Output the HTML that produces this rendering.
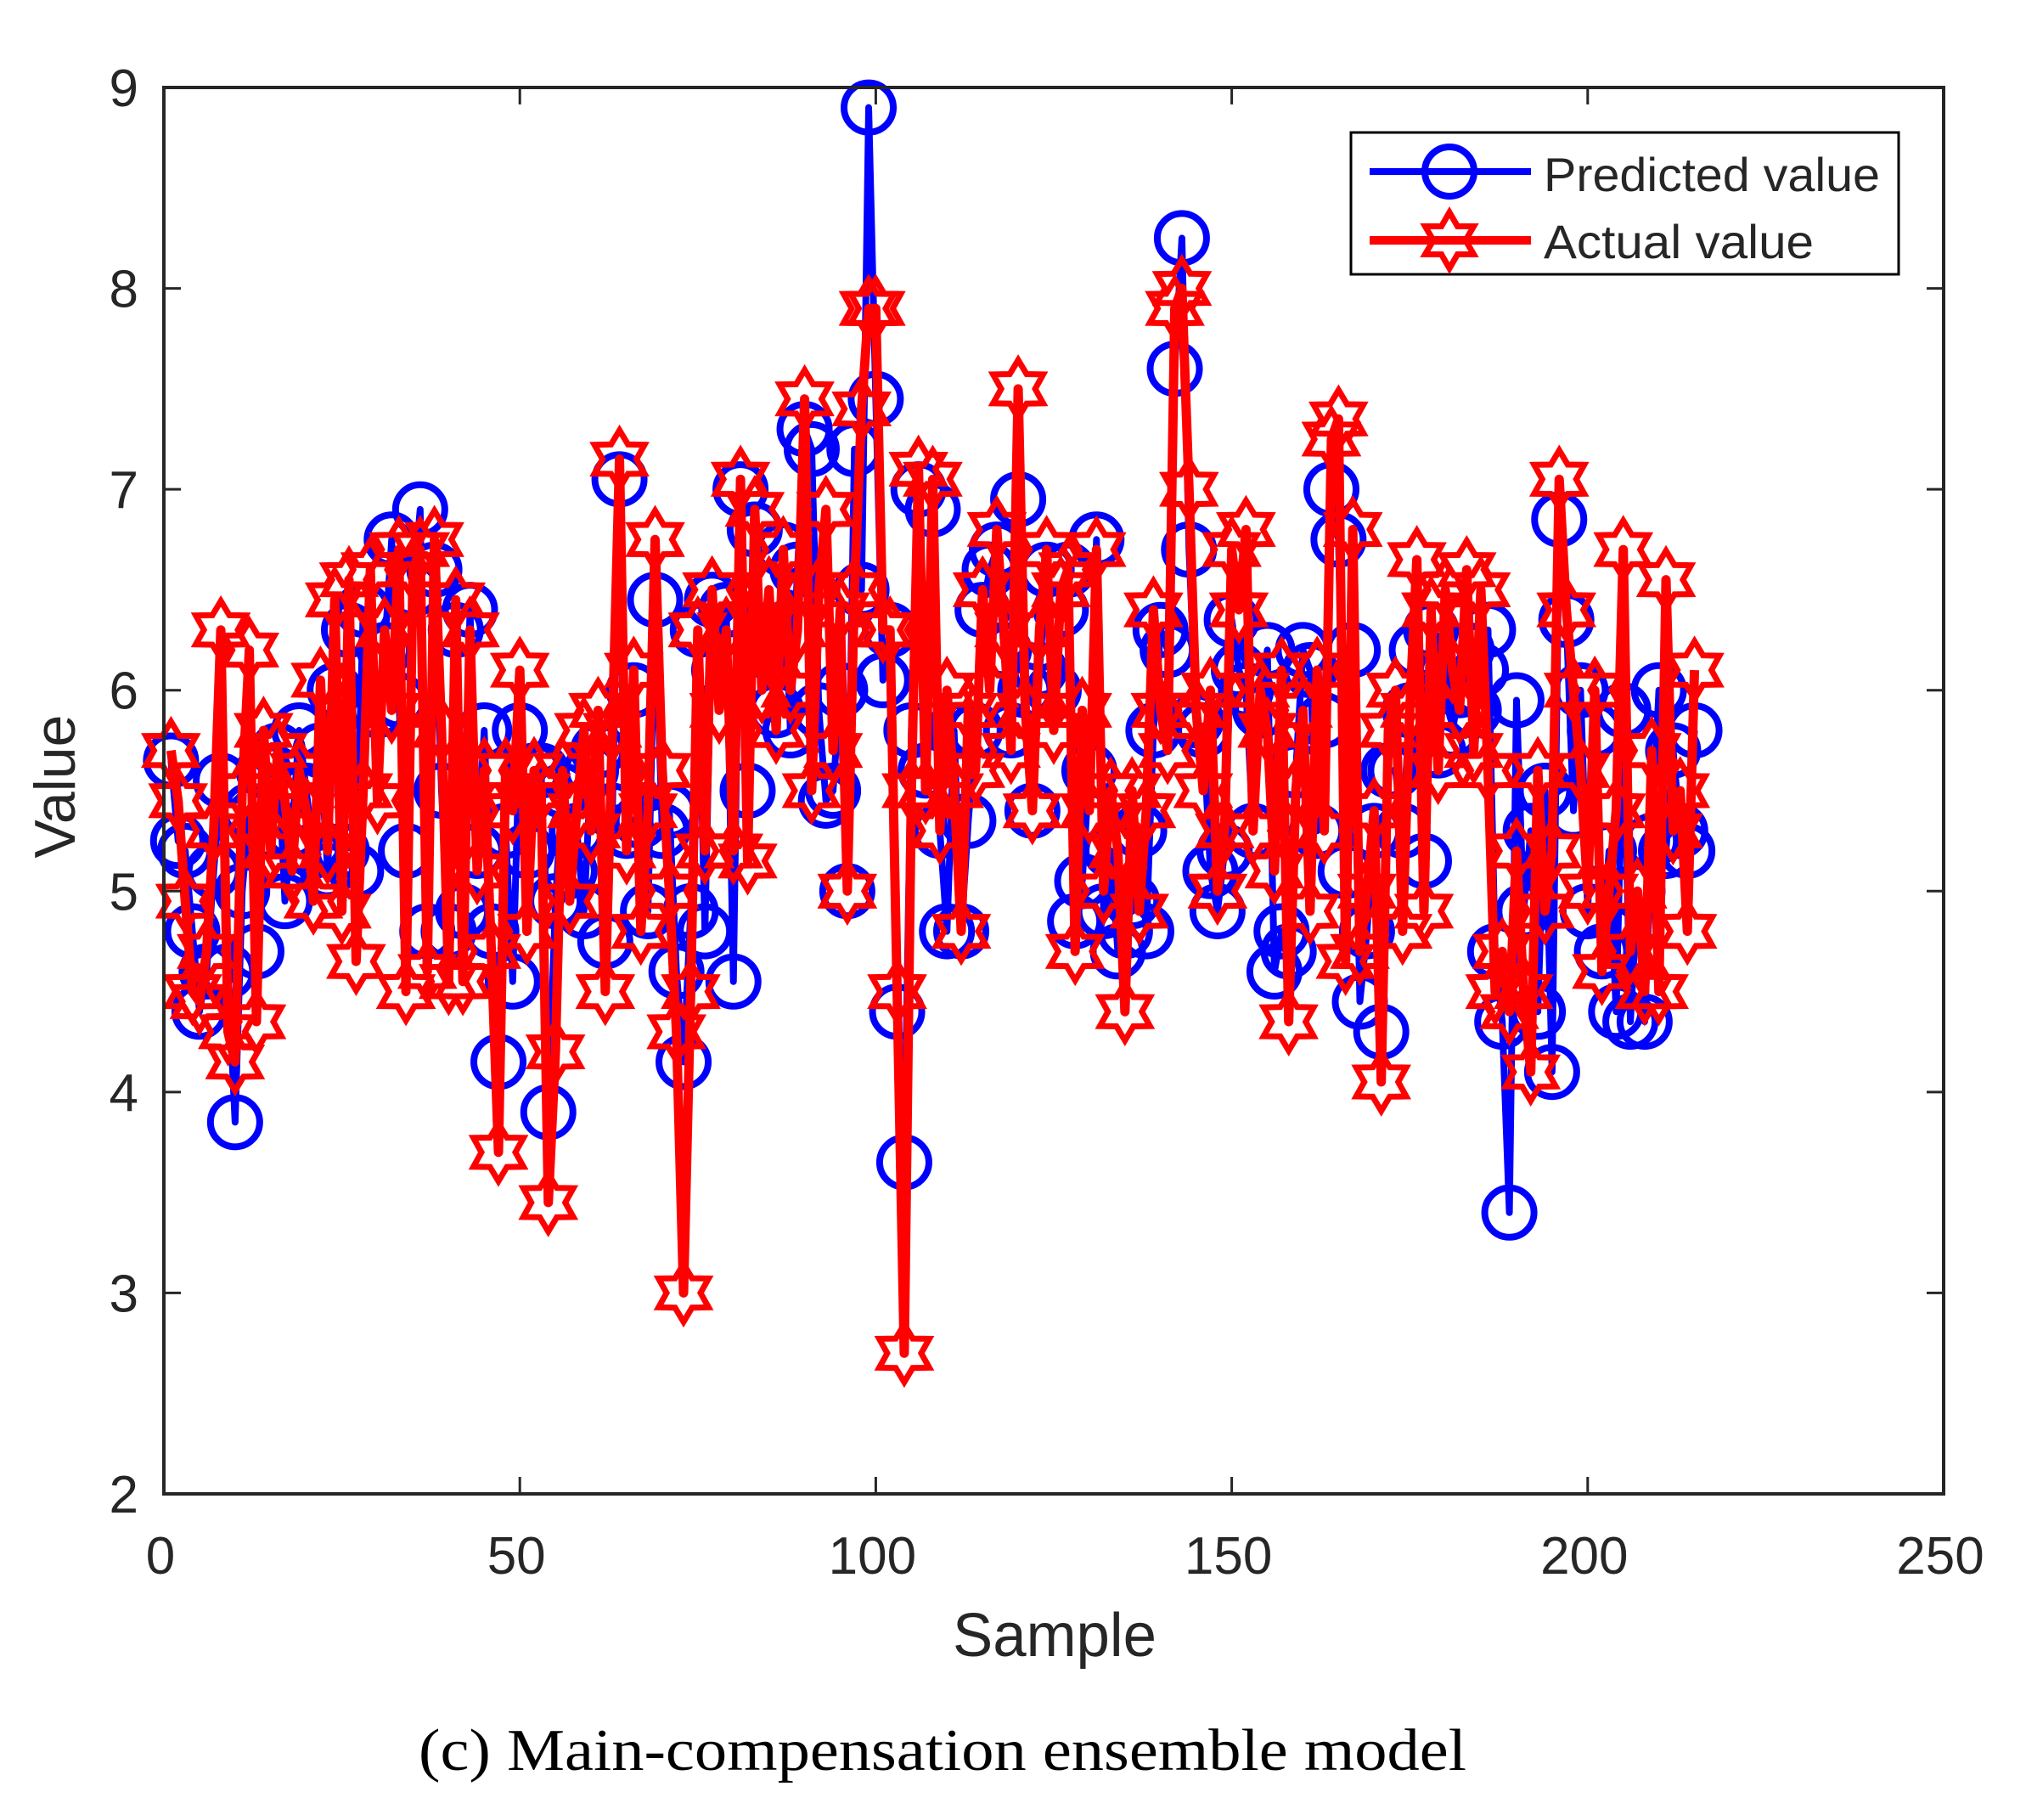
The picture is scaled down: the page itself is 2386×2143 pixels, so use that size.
<!DOCTYPE html>
<html><head><meta charset="utf-8"><style>
html,body{margin:0;padding:0;background:#fff;}
svg{display:block;}
text{font-family:"Liberation Sans",sans-serif;fill:#262626;}
</style></head><body>
<svg id="chart" width="2386" height="2143" viewBox="0 0 2386 2143" xmlns="http://www.w3.org/2000/svg">
<rect x="0" y="0" width="2386" height="2143" fill="#fff"/>
<g id="plot"></g>
<g id="axes"></g>
<text x="0" y="0" font-size="68" text-anchor="middle" transform="translate(88,926) rotate(-90)">Value</text>
<text x="1242" y="1950" font-size="72" text-anchor="middle" textLength="240" lengthAdjust="spacingAndGlyphs">Sample</text>
<text x="1110" y="2084" font-size="70" text-anchor="middle" style="font-family:'Liberation Serif',serif;fill:#000" textLength="1234" lengthAdjust="spacingAndGlyphs">(c) Main-compensation ensemble model</text>
<g id="legend">
<rect x="1591" y="156" width="645" height="167" fill="#fff" stroke="#000" stroke-width="3"/>
<g>
<line x1="1613" y1="202" x2="1803" y2="202" stroke="#0000ff" stroke-width="8"/>
<circle cx="1707" cy="202" r="29" fill="none" stroke="#0000ff" stroke-width="8"/>
<text x="1818" y="225" font-size="56" textLength="396" lengthAdjust="spacingAndGlyphs">Predicted value</text>
</g>
<g>
<line x1="1613" y1="283" x2="1803" y2="283" stroke="#ff0000" stroke-width="10"/>
<polygon id="legstar" fill="none" stroke="#ff0000" stroke-width="7"/>
<text x="1818" y="304" font-size="56" textLength="318" lengthAdjust="spacingAndGlyphs">Actual value</text>
</g>
</g>
</svg>
<script>
const xTicks=[0,50,100,150,200,250];
const yTicks=[2,3,4,5,6,7,8,9];
const predicted=[5.65,5.25,5.2,4.8,4.4,4.6,5.1,5.55,4.6,3.85,
5.0,5.4,4.7,5.6,5.3,5.7,4.95,5.3,5.8,5.5,
5.2,5.7,5.1,6.0,5.2,6.3,5.1,6.4,6.1,5.9,
6.2,6.75,5.95,5.2,6.5,6.9,4.8,6.6,5.5,4.8,
6.3,4.9,6.4,5.2,5.8,4.8,4.15,5.3,4.55,5.8,
5.2,5.6,5.6,3.9,4.95,5.5,5.1,5.3,4.9,5.6,
5.7,4.75,5.4,7.05,5.3,6.0,5.35,4.9,6.45,5.3,
5.4,4.6,4.15,4.9,6.3,4.8,6.45,6.1,6.4,4.55,
7.0,5.5,6.8,6.2,6.3,5.9,6.7,5.8,6.6,7.3,
7.2,5.9,5.45,5.5,6.0,5.0,7.2,6.5,8.9,7.45,
6.05,6.3,4.4,3.65,5.8,7.0,5.6,6.9,5.3,4.8,
5.8,4.8,5.35,5.8,6.4,6.6,6.7,6.2,5.8,6.95,
6.0,5.4,6.1,6.6,6.0,6.4,6.6,4.85,5.05,5.6,
6.75,4.9,5.2,4.7,4.8,4.95,5.3,4.8,5.8,6.3,
6.2,7.6,8.25,6.7,5.85,5.8,5.1,4.9,5.2,6.35,
6.1,6.0,5.3,5.9,6.2,4.6,4.8,4.7,5.6,6.2,
6.1,5.3,5.85,7.0,6.75,5.1,6.2,4.45,4.8,5.3,
4.3,5.6,5.6,5.3,5.9,6.2,5.15,6.3,5.7,6.1,
5.8,6.0,6.2,5.9,6.1,6.3,4.7,4.35,3.4,5.95,
4.9,5.3,4.4,5.5,4.1,6.85,6.35,5.4,6.0,4.9,
5.8,4.7,5.2,4.4,5.9,4.35,5.0,4.35,5.25,6.0,
5.2,5.7,5.3,5.2,5.8];
const actual=[5.7,5.45,4.95,4.5,4.45,4.7,5.3,6.3,4.3,4.15,
5.5,6.2,4.35,5.8,5.2,5.7,5.45,5.1,5.6,5.4,
4.95,6.05,5.2,6.45,4.9,6.55,4.65,5.5,6.6,5.45,
6.3,5.9,6.7,4.5,6.6,6.7,4.6,6.75,5.8,4.55,
6.45,4.55,6.3,5.1,5.6,4.7,3.7,5.6,5.4,6.1,
4.8,5.6,5.5,3.45,4.2,5.6,4.95,5.4,5.8,5.3,
5.9,4.5,5.8,7.15,5.2,6.1,4.8,5.4,6.75,5.6,
5.0,4.3,3.0,4.5,6.3,5.2,6.5,5.9,6.3,5.2,
7.05,5.15,6.9,6.0,6.5,5.8,6.7,6.0,6.3,7.45,
5.5,6.5,6.9,5.7,6.4,5.0,6.5,7.4,7.9,7.9,
6.3,6.3,4.5,2.7,5.5,7.1,5.5,7.05,5.3,6.0,
5.5,4.8,5.9,5.6,6.5,6.0,6.8,6.3,5.7,7.5,
5.9,5.4,6.3,6.7,5.8,6.5,6.6,4.7,5.9,5.4,
6.7,5.0,5.5,5.2,4.4,5.5,4.9,5.4,6.4,5.9,
5.7,7.9,8.0,7.0,5.9,5.5,6.0,5.0,5.3,6.7,
6.4,6.8,5.3,6.0,5.8,5.1,6.1,4.35,5.5,5.9,
4.9,6.1,5.3,7.25,7.35,4.65,6.8,4.7,5.0,5.4,
4.05,5.8,6.0,4.8,5.9,6.65,4.9,6.4,5.6,6.5,
6.1,5.9,6.6,5.7,6.5,5.6,4.5,4.7,4.4,5.2,
4.5,4.1,5.6,4.9,5.2,7.05,6.4,6.0,5.6,5.0,
6.0,4.6,5.0,5.4,6.7,4.7,5.0,4.5,5.7,4.5,
6.55,5.3,5.5,4.8,6.1];

const L=193,R=2289,T=103,B=1759;
const xMin=0,xMax=250,yMin=2,yMax=9;
const sx=v=>L+(v-xMin)/(xMax-xMin)*(R-L);
const sy=v=>B-(v-yMin)/(yMax-yMin)*(B-T);
const NS='http://www.w3.org/2000/svg';
const plot=document.getElementById('plot');
const axes=document.getElementById('axes');
function mk(tag,parent){const e=document.createElementNS(NS,tag);parent.appendChild(e);return e;}
function starPts(cx,cy,ro,ri){const p=[];for(let k=0;k<12;k++){const a=-Math.PI/2+k*Math.PI/6;const r=k%2?ri:ro;p.push((cx+r*Math.cos(a)).toFixed(1)+','+(cy+r*Math.sin(a)).toFixed(1));}return p.join(' ');}
document.getElementById('legstar').setAttribute('points',starPts(1707,283,33,19));

const bl=mk('polyline',plot);


bl.setAttribute('points',predicted.map((v,i)=>sx(i+1)+','+sy(v)).join(' '));
bl.setAttribute('fill','none');bl.setAttribute('stroke','#0000ff');bl.setAttribute('stroke-width','8');bl.setAttribute('stroke-linejoin','round');
predicted.forEach((v,i)=>{const c=mk('circle',plot);


c.setAttribute('cx',sx(i+1));c.setAttribute('cy',sy(v));c.setAttribute('r','29');c.setAttribute('fill','none');c.setAttribute('stroke','#0000ff');c.setAttribute('stroke-width','8');});

const rl=mk('polyline',plot);


rl.setAttribute('points',actual.map((v,i)=>sx(i+1)+','+sy(v)).join(' '));
rl.setAttribute('fill','none');rl.setAttribute('stroke','#ff0000');rl.setAttribute('stroke-width','11');rl.setAttribute('stroke-linejoin','round');
actual.forEach((v,i)=>{const s=mk('polygon',plot);


s.setAttribute('points',starPts(sx(i+1),sy(v),34,20));s.setAttribute('fill','none');s.setAttribute('stroke','#ff0000');s.setAttribute('stroke-width','7');});

const box=mk('rect',axes);


box.setAttribute('x',L);box.setAttribute('y',T);box.setAttribute('width',R-L);box.setAttribute('height',B-T);box.setAttribute('fill','none');box.setAttribute('stroke','#262626');box.setAttribute('stroke-width','4');
xTicks.forEach(t=>{const x=sx(t);
[[B,B-20],[T,T+20]].forEach(([a,b])=>{const l=mk('line',axes);


l.setAttribute('x1',x);l.setAttribute('x2',x);l.setAttribute('y1',a);l.setAttribute('y2',b);l.setAttribute('stroke','#262626');l.setAttribute('stroke-width','3');});
const tx=mk('text',axes);


tx.setAttribute('x',x-4);tx.setAttribute('y',1853);tx.setAttribute('font-size','62');tx.setAttribute('text-anchor','middle');tx.textContent=t;});
yTicks.forEach(t=>{const y=sy(t);
[[L,L+20],[R,R-20]].forEach(([a,b])=>{const l=mk('line',axes);


l.setAttribute('x1',a);l.setAttribute('x2',b);l.setAttribute('y1',y);l.setAttribute('y2',y);l.setAttribute('stroke','#262626');l.setAttribute('stroke-width','3');});
const tx=mk('text',axes);


tx.setAttribute('x',163);tx.setAttribute('y',y+22);tx.setAttribute('font-size','62');tx.setAttribute('text-anchor','end');tx.textContent=t;});
</script>
</body></html>
